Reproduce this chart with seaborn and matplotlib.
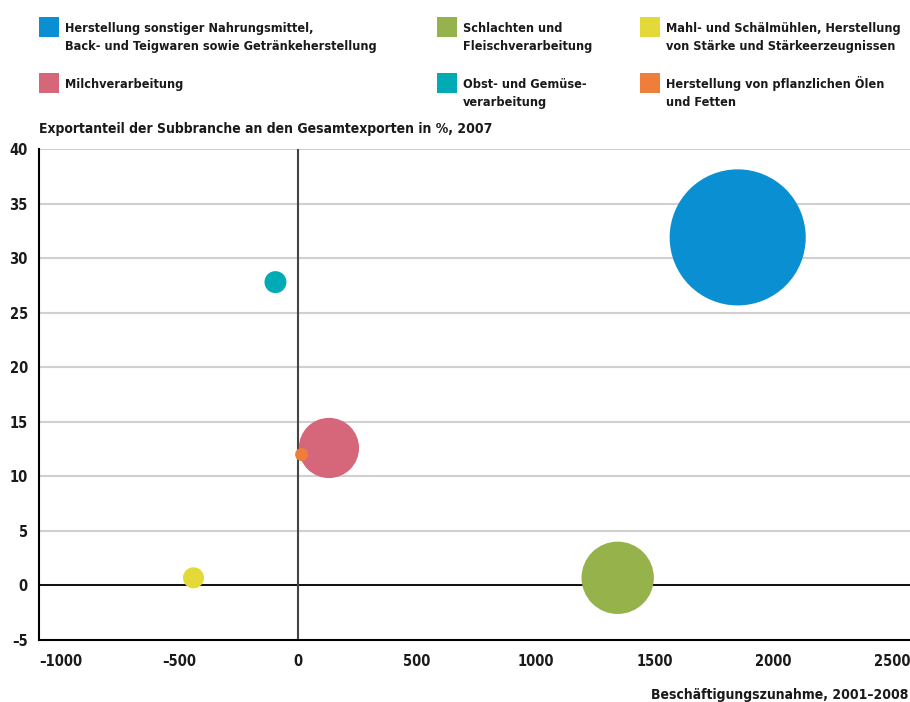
import matplotlib
matplotlib.use("Agg")
import matplotlib.pyplot as plt
from matplotlib.patches import Rectangle
import seaborn as sns
import pandas as pd

# --- Daten ---
kategorien = [
    "Herstellung sonstiger Nahrungsmittel,\nBack- und Teigwaren sowie Getränkeherstellung",
    "Milchverarbeitung",
    "Schlachten und\nFleischverarbeitung",
    "Obst- und Gemüse-\nverarbeitung",
    "Mahl- und Schälmühlen, Herstellung\nvon Stärke und Stärkeerzeugnissen",
    "Herstellung von pflanzlichen Ölen\nund Fetten",
]
farben = ["#0a8fd2", "#d6677a", "#95b34a", "#00abb5", "#e3da3a", "#ef7e3a"]
beschaeftigung = [1850, 130, 1345, -95, -440, 15]      # Beschäftigungszunahme 2001-2008
exportanteil = [31.9, 12.6, 0.7, 27.8, 0.7, 12.0]       # Exportanteil in %, 2007
groesse = [46, 9, 13, 1.2, 1.1, 0.42]                    # Blasengröße (Fläche)

x_ticks = [-1000, -500, 0, 500, 1000, 1500, 2000, 2500]
y_ticks = [-5, 0, 5, 10, 15, 20, 25, 30, 35, 40]

df = pd.DataFrame({
    "Kategorie": kategorien,
    "Beschaeftigung": beschaeftigung,
    "Exportanteil": exportanteil,
    "Groesse": groesse,
})

sns.set_theme(style="white")
# schmale Schrift wie im Original
plt.rcParams["font.family"] = ["DejaVu Sans"]
plt.rcParams["font.stretch"] = "condensed"
plt.rcParams["font.weight"] = "bold"

W, H = 910, 702
fig = plt.figure(figsize=(W / 100, H / 100), dpi=100)
ax = fig.add_axes([39 / W, 1 - 640 / H, 1 - 39 / W, (640 - 149) / H])

# Gitterlinien
for y in y_ticks[1:]:
    ax.axhline(y, color="#d0d0d0", lw=1.5, zorder=0)
ax.axhline(0, color="black", lw=1.3, zorder=1)
ax.axvline(0, color="#444444", lw=1.5, zorder=1)

sns.scatterplot(data=df, x="Beschaeftigung", y="Exportanteil", hue="Kategorie",
                palette=dict(zip(kategorien, farben)), size="Groesse",
                sizes=(0, 9600), size_norm=(0, 46), linewidth=0, alpha=1,
                legend=False, ax=ax, zorder=3)

ax.set_xlim(-1090, 2575)
ax.set_ylim(-5, 40)
ax.set_xticks(x_ticks)
ax.set_xticklabels([str(v).replace("-", "–") for v in x_ticks])
ax.set_yticks(y_ticks)
ax.set_yticklabels([str(v).replace("-", "–") for v in y_ticks])
ax.tick_params(length=0, labelsize=10.5, colors="#1a1a1a")
ax.tick_params(axis="x", pad=10)
ax.tick_params(axis="y", pad=8)
ax.set_xlabel("")
ax.set_ylabel("")
for s in ["top", "right"]:
    ax.spines[s].set_visible(False)
for s in ["left", "bottom"]:
    ax.spines[s].set_color("black")
    ax.spines[s].set_linewidth(1.5)

# Achsentitel
fig.text(39 / W, 1 - 133 / H, "Exportanteil der Subbranche an den Gesamtexporten in %, 2007",
         ha="left", va="baseline", fontsize=10, fontweight="bold", color="#1a1a1a")
fig.text(908 / W, 1 - 699 / H, "Beschäftigungszunahme, 2001–2008",
         ha="right", va="baseline", fontsize=10, fontweight="bold", color="#1a1a1a")

# Legende (manuell, 3 Spalten x 2 Zeilen)
spalten_x = [39, 437, 640]
zeilen_y = [17, 73]
for i, (name, farbe) in enumerate(zip(kategorien, farben)):
    x0 = spalten_x[i // 2]
    y0 = zeilen_y[i % 2]
    fig.patches.append(Rectangle((x0 / W, 1 - (y0 + 20) / H), 20 / W, 20 / H,
                                 transform=fig.transFigure, color=farbe, lw=0))
    # Grundlinie der letzten Zeile
    y_base = y0 + 15 + name.count("\n") * 18
    fig.text((x0 + 26) / W, 1 - y_base / H, name, ha="left", va="baseline",
             fontsize=9.1, fontweight="bold", color="#1a1a1a", linespacing=1.5)

fig.savefig("out.png", dpi=100)
